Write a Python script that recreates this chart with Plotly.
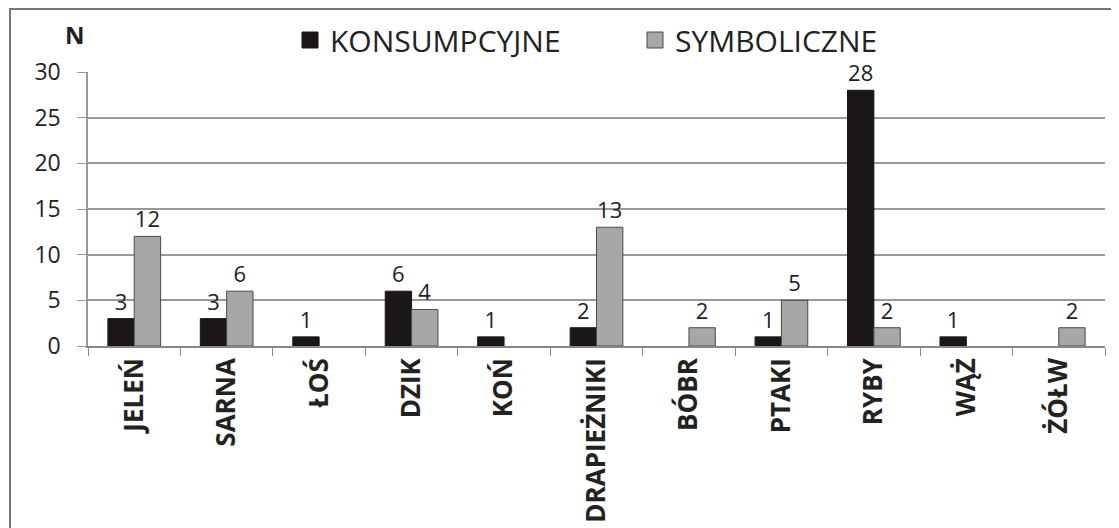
import plotly.graph_objects as go

# categories and values
categories = ["JELEŃ", "SARNA", "ŁOŚ", "DZIK", "KOŃ", "DRAPIEŻNIKI",
              "BÓBR", "PTAKI", "RYBY", "WĄŻ", "ŻÓŁW"]
konsumpcyjne = [3, 3, 1, 6, 1, 2, None, 1, 28, 1, None]
symboliczne = [12, 6, None, 4, None, 13, 2, 5, 2, None, 2]
y_ticks = [0, 5, 10, 15, 20, 25, 30]

# page has an 8px body margin, so the figure is a bit smaller than the window
OFF = 8
W, H = 1119 - OFF, 528 - OFF
L, R, T, B = 88 - OFF, 14, 72 - OFF, 182
pw = W - L - R
ph = H - T - B
FONT = "Open Sans, DejaVu Sans, sans-serif"
BLACK = "#1b1718"
GREY = "#a7a7a7"


# helpers: pixel position in the reference -> paper coordinates
def px(x):
    return (x - OFF - L) / pw


def py(y):
    return (H - B - (y - OFF)) / ph


fig = go.Figure()

fig.add_trace(go.Bar(
    x=categories, y=konsumpcyjne, name="KONSUMPCYJNE", showlegend=False,
    marker=dict(color=BLACK, line=dict(color=BLACK, width=1)),
    text=[str(v) if v is not None else "" for v in konsumpcyjne],
    textposition="outside", cliponaxis=False, constraintext="none",
    textfont=dict(size=22, color="#222", family=FONT),
))
fig.add_trace(go.Bar(
    x=categories, y=symboliczne, name="SYMBOLICZNE", showlegend=False,
    marker=dict(color=GREY, line=dict(color="#4a4a4a", width=1)),
    text=[str(v) if v is not None else "" for v in symboliczne],
    textposition="outside", cliponaxis=False, constraintext="none",
    textfont=dict(size=22, color="#222", family=FONT),
))

# legend entries only (bigger square symbols than the bar legend gives)
fig.add_trace(go.Scatter(x=[None], y=[None], mode="markers", name="KONSUMPCYJNE",
                         marker=dict(symbol="square", size=16, color=BLACK,
                                     line=dict(color=BLACK, width=1))))
fig.add_trace(go.Scatter(x=[None], y=[None], mode="markers", name="SYMBOLICZNE",
                         marker=dict(symbol="square", size=16, color=GREY,
                                     line=dict(color="#4a4a4a", width=1))))

# outer frame of the picture
fig.add_shape(type="rect", xref="paper", yref="paper",
              x0=px(10), x1=px(1112), y0=py(560), y1=py(9),
              line=dict(color="#777", width=2), fillcolor="rgba(0,0,0,0)")

# axis title "N"
fig.add_annotation(xref="paper", yref="paper", x=px(75), y=py(34),
                   text="<b>N</b>", showarrow=False,
                   font=dict(size=24, color="#222", family=FONT),
                   xanchor="center", yanchor="middle")

fig.update_layout(
    width=W, height=H,
    margin=dict(l=L, r=R, t=T, b=B, autoexpand=False),
    plot_bgcolor="white", paper_bgcolor="white",
    font=dict(family=FONT, color="#222"),
    barmode="group", bargap=0.43, bargroupgap=0,
    showlegend=True,
    legend=dict(orientation="h", x=px(290), xanchor="left", y=py(40),
                yanchor="middle", font=dict(size=30, color="#222", family=FONT),
                itemsizing="trace", traceorder="normal",
                itemwidth=30, entrywidth=300, entrywidthmode="pixels",
                bgcolor="rgba(0,0,0,0)"),
)

fig.update_xaxes(
    type="category", categoryorder="array", categoryarray=categories,
    range=[-0.5, len(categories) - 0.5],
    tickangle=-90, automargin=False,
    tickfont=dict(size=26, color="#222", family=FONT),
    tickprefix="<b>", ticksuffix="</b>",
    showline=True, linecolor="#888", linewidth=1.5,
    ticks="outside", tickson="boundaries", ticklen=8, tickcolor="#888",
    showgrid=False,
)
fig.update_yaxes(
    range=[0, 30], tickvals=y_ticks, automargin=False,
    ticktext=[f"{v}\u00a0\u00a0" for v in y_ticks],
    tickfont=dict(size=23, color="#222", family=FONT),
    showline=True, linecolor="#999", linewidth=1.5,
    ticks="outside", ticklen=9, tickcolor="#999",
    showgrid=True, gridcolor="#999", gridwidth=1.5,
    zeroline=False,
)

fig.write_html("out.html")
